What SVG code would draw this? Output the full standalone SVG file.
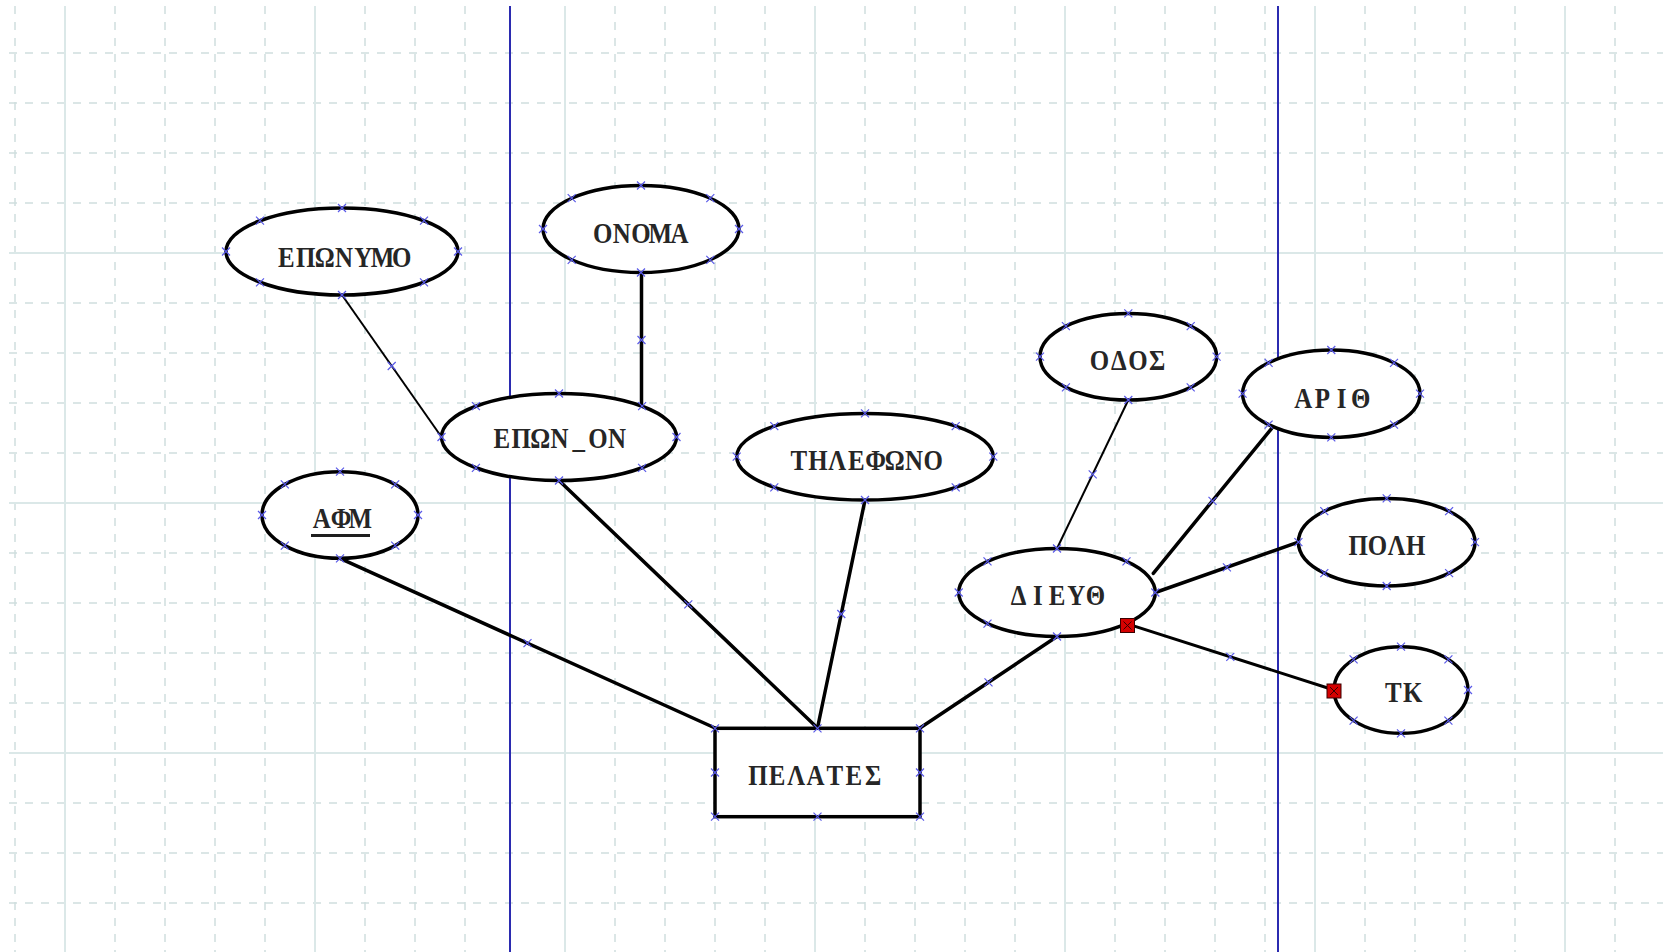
<svg xmlns="http://www.w3.org/2000/svg" width="1663" height="952" viewBox="0 0 1663 952">
<style>
.gd{stroke:#cfdede;stroke-width:1.5;stroke-dasharray:8 8;fill:none}
.gs{stroke:#dbe8e8;stroke-width:2;fill:none}
.ax{stroke:#2b2bb0;stroke-width:2;fill:none}
.nd{fill:#fff;stroke:#000;stroke-width:3.5}
.t{font-family:"Liberation Serif","Times New Roman",serif;font-weight:bold;font-size:29px;fill:#262626;text-anchor:middle}
.c{stroke:#000;stroke-width:3.5;fill:none;stroke-linecap:round}
.cn{stroke:#000;stroke-width:2;fill:none}
.mk{stroke:#5a5ae8;stroke-width:1.2;fill:none}
</style>
<defs>
<path id="x" class="mk" d="M-4,-4L4,4M-4,4L4,-4"/>
<g id="rq"><rect x="-7" y="-7" width="14" height="14" fill="#d40000" stroke="#3a0000" stroke-width="1"/><path d="M-4,-4L4,4M-4,4L4,-4" stroke="#3a0000" stroke-width="1"/></g>
</defs>
<rect width="1663" height="952" fill="#fff"/>
<g id="grid">
<path class="gd" d="M15,6V952M115,6V952M165,6V952M215,6V952M265,6V952M365,6V952M415,6V952M465,6V952M615,6V952M665,6V952M715,6V952M765,6V952M865,6V952M915,6V952M965,6V952M1015,6V952M1115,6V952M1165,6V952M1215,6V952M1265,6V952M1365,6V952M1415,6V952M1465,6V952M1515,6V952M1615,6V952"/>
<path class="gd" d="M9,53H1663M9,103H1663M9,153H1663M9,203H1663M9,303H1663M9,353H1663M9,403H1663M9,453H1663M9,553H1663M9,603H1663M9,653H1663M9,703H1663M9,803H1663M9,853H1663M9,903H1663"/>
<path class="gs" d="M65,6V952M315,6V952M565,6V952M815,6V952M1065,6V952M1315,6V952M1565,6V952M9,253H1663M9,503H1663M9,753H1663"/>
<path class="ax" d="M510,6V952M1278,6V952"/>
</g>
<g id="connectors">
<path class="cn" d="M342,295L441.5,437"/>
<path class="c" d="M641.5,272.5L641.5,406"/>
<path class="c" d="M559,480.5L817.5,728"/>
<path class="c" d="M340,558.3L715,728"/>
<path class="c" d="M865,500L817.5,728"/>
<path class="c" d="M1057,636.5L920,728"/>
<path class="cn" d="M1128.3,400L1057,548.5"/>
<path class="c" d="M1271.7,428.3L1153.3,573.3"/>
<path class="c" d="M1298.4,542.2L1155.3,592.5"/>
<path class="c" style="stroke-width:3" d="M1126.5,623.6L1334,690"/>
<use href="#x" x="391.7" y="366"/>
<use href="#x" x="641.5" y="340"/>
<use href="#x" x="688.3" y="604.3"/>
<use href="#x" x="527.5" y="643.2"/>
<use href="#x" x="841.3" y="614"/>
<use href="#x" x="988.5" y="682.3"/>
<use href="#x" x="1092.7" y="474.3"/>
<use href="#x" x="1212.5" y="500.8"/>
<use href="#x" x="1226.9" y="567.4"/>
<use href="#x" x="1230.3" y="656.8"/>
</g>
<g id="n-eponymo">
<ellipse class="nd" cx="342" cy="251.5" rx="116" ry="43.5"/>
<text class="t" transform="translate(344,267) scale(0.86,1)" x="-67 -44.65 -22.33 0 22.33 44.65 67" y="0">ΕΠΩΝΥΜΟ</text>
<use href="#x" x="458" y="251.5"/><use href="#x" x="226" y="251.5"/><use href="#x" x="342" y="208"/><use href="#x" x="342" y="295"/>
<use href="#x" x="424" y="220.7"/><use href="#x" x="260" y="220.7"/><use href="#x" x="424" y="282.3"/><use href="#x" x="260" y="282.3"/>
</g>
<g id="n-onoma">
<ellipse class="nd" cx="641" cy="229" rx="98" ry="43.5"/>
<text class="t" transform="translate(641,243) scale(0.86,1)" x="-44.65 -22.33 0 22.33 44.65" y="0">ΟΝΟΜΑ</text>
<use href="#x" x="739" y="229"/><use href="#x" x="543" y="229"/><use href="#x" x="641" y="185.5"/><use href="#x" x="641" y="272.5"/>
<use href="#x" x="710.3" y="198.2"/><use href="#x" x="571.7" y="198.2"/><use href="#x" x="710.3" y="259.8"/><use href="#x" x="571.7" y="259.8"/>
</g>
<g id="n-epon-on">
<ellipse class="nd" cx="559" cy="437" rx="117.5" ry="43.5"/>
<text class="t" transform="translate(559.5,448) scale(0.86,1)" x="-67 -44.65 -22.33 0 22.33 44.65 67" y="0">ΕΠΩΝ_ΟΝ</text>
<use href="#x" x="676.5" y="437"/><use href="#x" x="441.5" y="437"/><use href="#x" x="559" y="393.5"/><use href="#x" x="559" y="480.5"/>
<use href="#x" x="642.1" y="406.2"/><use href="#x" x="475.9" y="406.2"/><use href="#x" x="642.1" y="467.8"/><use href="#x" x="475.9" y="467.8"/>
</g>
<g id="n-afm">
<ellipse class="nd" cx="340" cy="515" rx="78" ry="43.3"/>
<text class="t" transform="translate(341,528) scale(0.86,1)" x="-22.33 0 22.33" y="0">ΑΦΜ</text>
<line x1="311" y1="535.5" x2="370" y2="535.5" stroke="#1e1e1e" stroke-width="3"/>
<use href="#x" x="418" y="515"/><use href="#x" x="262" y="515"/><use href="#x" x="340" y="471.7"/><use href="#x" x="340" y="558.3"/>
<use href="#x" x="395.2" y="484.4"/><use href="#x" x="284.8" y="484.4"/><use href="#x" x="395.2" y="545.6"/><use href="#x" x="284.8" y="545.6"/>
</g>
<g id="n-tilefono">
<ellipse class="nd" cx="865" cy="456.7" rx="128.3" ry="43.3"/>
<text class="t" transform="translate(866,470) scale(0.86,1)" x="-78.15 -55.8 -33.5 -11.16 11.16 33.5 55.8 78.15" y="0">ΤΗΛΕΦΩΝΟ</text>
<use href="#x" x="993.3" y="456.7"/><use href="#x" x="736.7" y="456.7"/><use href="#x" x="865" y="413.4"/><use href="#x" x="865" y="500"/>
<use href="#x" x="955.7" y="426.1"/><use href="#x" x="774.3" y="426.1"/><use href="#x" x="955.7" y="487.3"/><use href="#x" x="774.3" y="487.3"/>
</g>
<g id="n-pelates">
<rect class="nd" x="715" y="728.3" width="205" height="88.4"/>
<text class="t" transform="translate(815.5,785) scale(0.86,1)" x="-67 -44.65 -22.33 0 22.33 44.65 67" y="0">ΠΕΛΑΤΕΣ</text>
<use href="#x" x="715" y="728.3"/><use href="#x" x="817.5" y="728.3"/><use href="#x" x="920" y="728.3"/><use href="#x" x="715" y="772.5"/>
<use href="#x" x="920" y="772.5"/><use href="#x" x="715" y="816.7"/><use href="#x" x="817.5" y="816.7"/><use href="#x" x="920" y="816.7"/>
</g>
<g id="n-dieyth">
<ellipse class="nd" cx="1057" cy="592.5" rx="98.3" ry="44"/>
<text class="t" transform="translate(1057,605) scale(0.86,1)" x="-44.65 -22.33 0 22.33 44.65" y="0">ΔΙΕΥΘ</text>
<use href="#x" x="1155.3" y="592.5"/><use href="#x" x="958.7" y="592.5"/><use href="#x" x="1057" y="548.5"/><use href="#x" x="1057" y="636.5"/>
<use href="#x" x="1126.5" y="561.4"/><use href="#x" x="987.5" y="561.4"/><use href="#x" x="987.5" y="623.6"/>
</g>
<g id="n-odos">
<ellipse class="nd" cx="1128.3" cy="356.7" rx="88.3" ry="43.3"/>
<text class="t" transform="translate(1128.3,370) scale(0.86,1)" x="-33.5 -11.16 11.16 33.5" y="0">ΟΔΟΣ</text>
<use href="#x" x="1216.6" y="356.7"/><use href="#x" x="1040" y="356.7"/><use href="#x" x="1128.3" y="313.4"/><use href="#x" x="1128.3" y="400"/>
<use href="#x" x="1190.7" y="326.1"/><use href="#x" x="1065.9" y="326.1"/><use href="#x" x="1190.7" y="387.3"/><use href="#x" x="1065.9" y="387.3"/>
</g>
<g id="n-arith">
<ellipse class="nd" cx="1331.3" cy="393.7" rx="88.7" ry="43.7"/>
<text class="t" transform="translate(1332,408) scale(0.86,1)" x="-33.5 -11.16 11.16 33.5" y="0">ΑΡΙΘ</text>
<use href="#x" x="1420" y="393.7"/><use href="#x" x="1242.6" y="393.7"/><use href="#x" x="1331.3" y="350"/><use href="#x" x="1331.3" y="437.4"/>
<use href="#x" x="1394" y="362.8"/><use href="#x" x="1268.6" y="362.8"/><use href="#x" x="1394" y="424.6"/><use href="#x" x="1268.6" y="424.6"/>
</g>
<g id="n-poli">
<ellipse class="nd" cx="1386.7" cy="542.2" rx="88.3" ry="43.8"/>
<text class="t" transform="translate(1387,555) scale(0.86,1)" x="-33.5 -11.16 11.16 33.5" y="0">ΠΟΛΗ</text>
<use href="#x" x="1475" y="542.2"/><use href="#x" x="1298.4" y="542.2"/><use href="#x" x="1386.7" y="498.4"/><use href="#x" x="1386.7" y="586"/>
<use href="#x" x="1449.1" y="511.2"/><use href="#x" x="1324.3" y="511.2"/><use href="#x" x="1449.1" y="573.2"/><use href="#x" x="1324.3" y="573.2"/>
</g>
<g id="n-tk">
<ellipse class="nd" cx="1401" cy="690" rx="67" ry="43.3"/>
<text class="t" transform="translate(1403,702) scale(0.86,1)" x="-11.16 11.16" y="0">ΤΚ</text>
<use href="#x" x="1468" y="690"/><use href="#x" x="1401" y="646.7"/><use href="#x" x="1401" y="733.3"/>
<use href="#x" x="1448.4" y="659.4"/><use href="#x" x="1353.6" y="659.4"/><use href="#x" x="1448.4" y="720.6"/><use href="#x" x="1353.6" y="720.6"/>
</g>
<g id="link-ends">
<use href="#rq" x="1127.5" y="625.5"/>
<use href="#rq" x="1334" y="691"/>
</g>
</svg>
